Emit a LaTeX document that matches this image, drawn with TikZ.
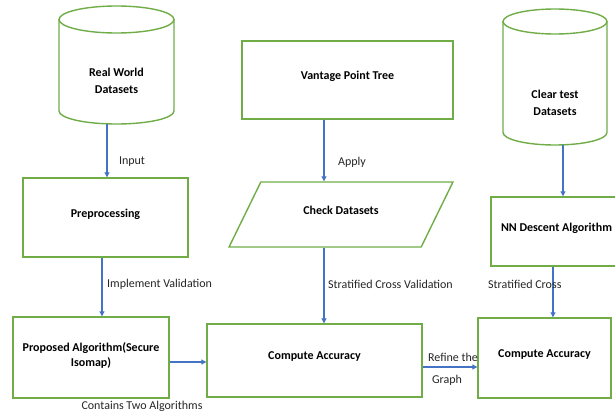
\documentclass[tikz,border=0pt]{standalone}
\usepackage{fontspec}
\setmainfont{Carlito}
\usetikzlibrary{arrows.meta, shapes, positioning, calc}

\definecolor{boxgreen}{HTML}{70AD47}
\definecolor{linkblue}{HTML}{4472C4}

\begin{document}
\begin{tikzpicture}[
        x=1pt, y=-1pt, % pixel-like grid, origin top left
        box/.style={rectangle, draw=boxgreen, line width=1.4pt, fill=white, font=\bfseries\fontsize{12}{14.5}\selectfont, align=center, inner sep=2pt, text depth=9pt},
        db/.style={draw=boxgreen, line width=1.4pt, fill=white}, % cylinder outline
        dbtext/.style={font=\bfseries\fontsize{12}{16.5}\selectfont, align=center},
        arrow/.style={-{Triangle[length=5pt, width=5pt]}, draw=linkblue, line width=1.1pt},
        lbl/.style={font=\fontsize{12}{14}\selectfont, text=black!85, inner sep=1pt}
    ]
    \useasboundingbox (0,0) rectangle (615,412);
    \fill[white] (0,0) rectangle (615,412);

    % Datasets (cylinders)
    \draw[db] (59,19.5) -- (59,111) arc[start angle=180, end angle=0, x radius=57.5, y radius=13] -- (174,19.5);
    \draw[db] (116.5,19.5) ellipse [x radius=57.5, y radius=13.5];
    \node[dbtext] (realdata) at (116.5,81) {Real World\\ Datasets};
    \coordinate (realdata_bot) at (107,124);

    \draw[db] (503,21.5) -- (503,132.5) arc[start angle=180, end angle=0, x radius=52, y radius=12.5] -- (607,21.5);
    \draw[db] (555,21.5) ellipse [x radius=52, y radius=12.5];
    \node[dbtext] (testdata) at (555,103) {Clear test\\ Datasets};
    \coordinate (testdata_bot) at (563,145);

    % Nodes - left column
    \node[box, minimum width=165pt, minimum height=79pt] (prep) at (105.5,217.5) {Preprocessing};
    \node[box, minimum width=156pt, minimum height=81pt, text depth=6pt] (proposed) at (91,357.5) {Proposed Algorithm(Secure\\ Isomap)};
    \node[lbl] (two_algos) at (142,406) {Contains Two Algorithms};

    % Nodes - middle column
    \node[box, minimum width=211pt, minimum height=78pt] (vptree) at (347.5,80) {Vantage Point Tree};
    \node[trapezium, trapezium left angle=56, trapezium right angle=124, trapezium stretches=true,
          draw=boxgreen, line width=1.4pt, minimum width=224pt, minimum height=65pt, text depth=9pt,
          font=\bfseries\fontsize{12}{14.5}\selectfont] (check) at (341,214.5) {Check Datasets};
    \node[box, minimum width=215pt, minimum height=73pt] (accuracy) at (314.5,360.5) {Compute Accuracy};

    % Nodes - right column
    \node[box, minimum width=131pt, minimum height=69pt] (nndescent) at (556.5,231.5) {NN Descent Algorithm};
    \node[box, minimum width=133pt, minimum height=80pt] (accuracy_nn) at (544.5,358) {Compute Accuracy};

    % Connections - Flow
    \draw[arrow] (realdata_bot) -- (prep.north -| realdata_bot);
    \node[lbl] (input_lbl) at (132,162) {Input};

    \draw[arrow] (prep.south -| 102,0) -- (proposed.north -| 102,0);
    \node[lbl, right] (impl_lbl) at (106,284) {Implement Validation};

    \draw[arrow] (proposed.east |- 0,362) -- (accuracy.west |- 0,362);

    \draw[arrow] (vptree.south -| 324,0) -- (check.north -| 324,0);
    \node[lbl] (apply_lbl) at (352,162) {Apply};

    \draw[arrow] (check.south -| 324,0) -- (accuracy.north -| 324,0);
    \node[lbl, right] (strat_lbl) at (327,284) {Stratified Cross Validation};

    \draw[arrow] (accuracy.east |- 0,367) -- (accuracy_nn.west |- 0,367);
    \node[lbl] (refine_lbl) at (453,357) {Refine the};
    \node[lbl] (graph_lbl) at (447,380) {Graph};

    \draw[arrow] (testdata_bot) -- (nndescent.north -| testdata_bot);

    \draw[arrow] (nndescent.south -| 553,0) -- (accuracy_nn.north -| 553,0);
    \node[lbl, right] (strat_nn_lbl) at (487,284) {Stratified Cross};

    \end{tikzpicture}
\end{document}
